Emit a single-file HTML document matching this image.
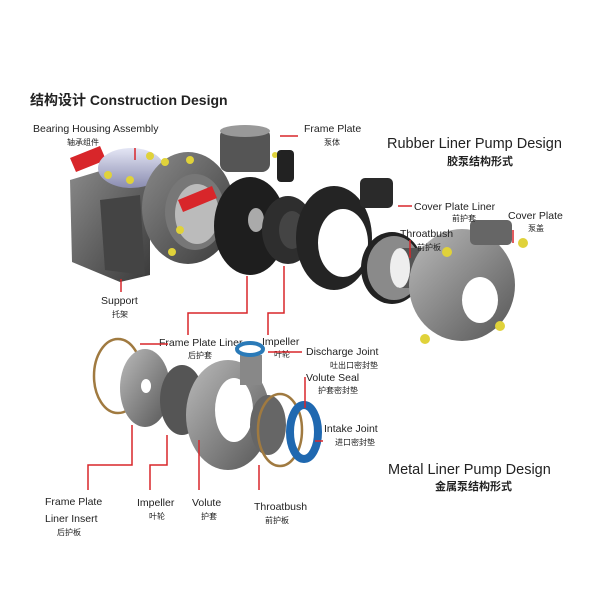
<!DOCTYPE html>
<html><head><meta charset="utf-8"><style>
html,body{margin:0;padding:0;background:#fff}
svg{display:block}
text{font-family:"Liberation Sans","Noto Sans CJK SC",sans-serif;fill:#222}
.l{font-size:10.5px}
.c{font-size:8px}
</style></head><body>
<svg width="600" height="600" viewBox="0 0 600 600" xmlns="http://www.w3.org/2000/svg">
<defs>
<linearGradient id="g1" x1="0" y1="0" x2="1" y2="1"><stop offset="0" stop-color="#8a8a8a"/><stop offset="1" stop-color="#3a3a3a"/></linearGradient>
<linearGradient id="g2" x1="0" y1="0" x2="1" y2="1"><stop offset="0" stop-color="#bbb"/><stop offset="1" stop-color="#555"/></linearGradient>
<linearGradient id="bh" x1="0" y1="0" x2="0" y2="1"><stop offset="0" stop-color="#e4e6f5"/><stop offset="1" stop-color="#8a8cb0"/></linearGradient>
</defs>
<text x="30" y="105" style="font-size:14px;font-weight:bold">结构设计  Construction Design</text>

<!-- support -->
<polygon points="70,180 120,165 150,180 150,275 120,282 72,262" fill="url(#g1)"/>
<polygon points="100,200 140,195 145,275 105,270" fill="#444"/>
<!-- shaft -->
<polygon points="70,158 100,146 106,160 76,172" fill="#d8262a"/>
<!-- bearing housing -->
<ellipse cx="131" cy="168" rx="33" ry="20" fill="url(#bh)"/>
<!-- frame plate body -->
<ellipse cx="188" cy="208" rx="46" ry="56" fill="url(#g1)"/>
<ellipse cx="195" cy="212" rx="30" ry="38" fill="#777"/>
<ellipse cx="197" cy="214" rx="22" ry="30" fill="#bbb"/>
<polygon points="178,200 212,186 217,198 183,212" fill="#d8262a"/>
<rect x="220" y="128" width="50" height="44" rx="8" fill="#555"/>
<ellipse cx="245" cy="131" rx="25" ry="6" fill="#999"/>
<!-- bolts -->
<g fill="#e0d23a">
<circle cx="108" cy="175" r="4"/><circle cx="130" cy="180" r="4"/><circle cx="150" cy="156" r="4"/><circle cx="165" cy="162" r="4"/>
<circle cx="190" cy="160" r="4"/><circle cx="180" cy="230" r="4"/><circle cx="172" cy="252" r="4"/><circle cx="275" cy="155" r="3"/>
</g>
<!-- frame plate liner -->
<ellipse cx="250" cy="226" rx="36" ry="49" fill="#1e1e1e"/>
<rect x="277" y="150" width="17" height="32" rx="4" fill="#222"/>
<ellipse cx="256" cy="220" rx="8" ry="12" fill="#aaa"/>
<!-- impeller -->
<ellipse cx="288" cy="230" rx="26" ry="34" fill="#2e2e2e"/>
<ellipse cx="292" cy="230" rx="13" ry="19" fill="#444"/>
<!-- cover plate liner -->
<ellipse cx="334" cy="238" rx="38" ry="52" fill="#242424"/>
<ellipse cx="343" cy="243" rx="25" ry="34" fill="#fff"/>
<rect x="360" y="178" width="33" height="30" rx="5" fill="#2a2a2a"/>
<!-- throatbush -->
<ellipse cx="392" cy="268" rx="31" ry="36" fill="#222"/>
<ellipse cx="394" cy="268" rx="27" ry="32" fill="#8a8a8a"/>
<rect x="398" y="248" width="30" height="40" fill="#555"/>
<ellipse cx="400" cy="268" rx="10" ry="20" fill="#eee"/>
<!-- cover plate -->
<ellipse cx="462" cy="285" rx="53" ry="56" fill="url(#g2)"/>
<rect x="470" y="220" width="42" height="25" rx="5" fill="#666"/>
<ellipse cx="480" cy="300" rx="18" ry="23" fill="#fff"/>
<g fill="#e0d23a"><circle cx="447" cy="252" r="5"/><circle cx="523" cy="243" r="5"/><circle cx="500" cy="326" r="5"/><circle cx="425" cy="339" r="5"/></g>

<!-- top labels -->
<text class="l" x="33" y="132">Bearing Housing Assembly</text>
<text class="c" x="67" y="145">轴承组件</text>
<text class="l" x="304" y="132">Frame Plate</text>
<text class="c" x="324" y="145">泵体</text>
<text x="387" y="148" style="font-size:14.5px">Rubber Liner Pump Design</text>
<text x="447" y="165" style="font-size:11px;font-weight:bold">胶泵结构形式</text>
<text class="l" x="414" y="210">Cover Plate Liner</text>
<text class="c" x="452" y="221">前护套</text>
<text class="l" x="508" y="219">Cover Plate</text>
<text class="c" x="528" y="231">泵盖</text>
<text class="l" x="400" y="237">Throatbush</text>
<text class="c" x="417" y="250">前护板</text>
<text class="l" x="101" y="304">Support</text>
<text class="c" x="112" y="317">托架</text>
<text class="l" x="159" y="346">Frame Plate Liner</text>
<text class="c" x="188" y="358">后护套</text>
<text class="l" x="262" y="345">Impeller</text>
<text class="c" x="274" y="357">叶轮</text>

<g stroke="#d8262a" stroke-width="1.5" fill="none">
<path d="M135,148 V160"/><path d="M298,136 H280"/><path d="M412,206 H398"/>
<path d="M513,230 V243"/><path d="M410,240 V258"/><path d="M121,292 V279"/>
<path d="M188,335 V313 H247 V276"/><path d="M268,335 V313 H284 V266"/>
</g>

<!-- bottom assembly -->
<ellipse cx="118" cy="376" rx="24" ry="37" fill="none" stroke="#a07a40" stroke-width="2.5"/>
<ellipse cx="145" cy="388" rx="25" ry="39" fill="url(#g2)"/>
<ellipse cx="146" cy="386" rx="5" ry="7" fill="#fff"/>
<ellipse cx="182" cy="400" rx="22" ry="35" fill="#555"/>
<ellipse cx="228" cy="415" rx="42" ry="55" fill="url(#g2)"/>
<ellipse cx="234" cy="410" rx="19" ry="32" fill="#fff"/>
<rect x="240" y="355" width="22" height="30" fill="#888"/>
<ellipse cx="250" cy="349" rx="13" ry="6" fill="none" stroke="#2a7ab8" stroke-width="4"/>
<ellipse cx="268" cy="425" rx="18" ry="30" fill="#666"/>
<ellipse cx="280" cy="430" rx="22" ry="36" fill="none" stroke="#a07a40" stroke-width="2.5"/>
<ellipse cx="304" cy="432" rx="14" ry="27" fill="none" stroke="#1f68b0" stroke-width="8"/>

<g stroke="#d8262a" stroke-width="1.5" fill="none">
<path d="M168,344 H140"/><path d="M302,352 H268"/><path d="M305,377 V408"/>
<path d="M323,441 H315"/>
<path d="M88,490 V465 H132 V425"/><path d="M150,490 V465 H167 V435"/>
<path d="M199,490 V440"/><path d="M259,490 V465"/>
</g>
<text class="l" x="306" y="355">Discharge Joint</text>
<text class="c" x="330" y="368">吐出口密封垫</text>
<text class="l" x="306" y="381">Volute Seal</text>
<text class="c" x="318" y="393">护套密封垫</text>
<text class="l" x="324" y="432">Intake Joint</text>
<text class="c" x="335" y="445">进口密封垫</text>
<text x="388" y="474" style="font-size:14.5px">Metal Liner Pump Design</text>
<text x="435" y="490" style="font-size:11px;font-weight:bold">金属泵结构形式</text>
<text class="l" x="45" y="505">Frame Plate</text>
<text class="l" x="45" y="522">Liner Insert</text>
<text class="c" x="57" y="535">后护板</text>
<text class="l" x="137" y="506">Impeller</text>
<text class="c" x="149" y="519">叶轮</text>
<text class="l" x="192" y="506">Volute</text>
<text class="c" x="201" y="519">护套</text>
<text class="l" x="254" y="510">Throatbush</text>
<text class="c" x="265" y="523">前护板</text>
</svg>
</body></html>
